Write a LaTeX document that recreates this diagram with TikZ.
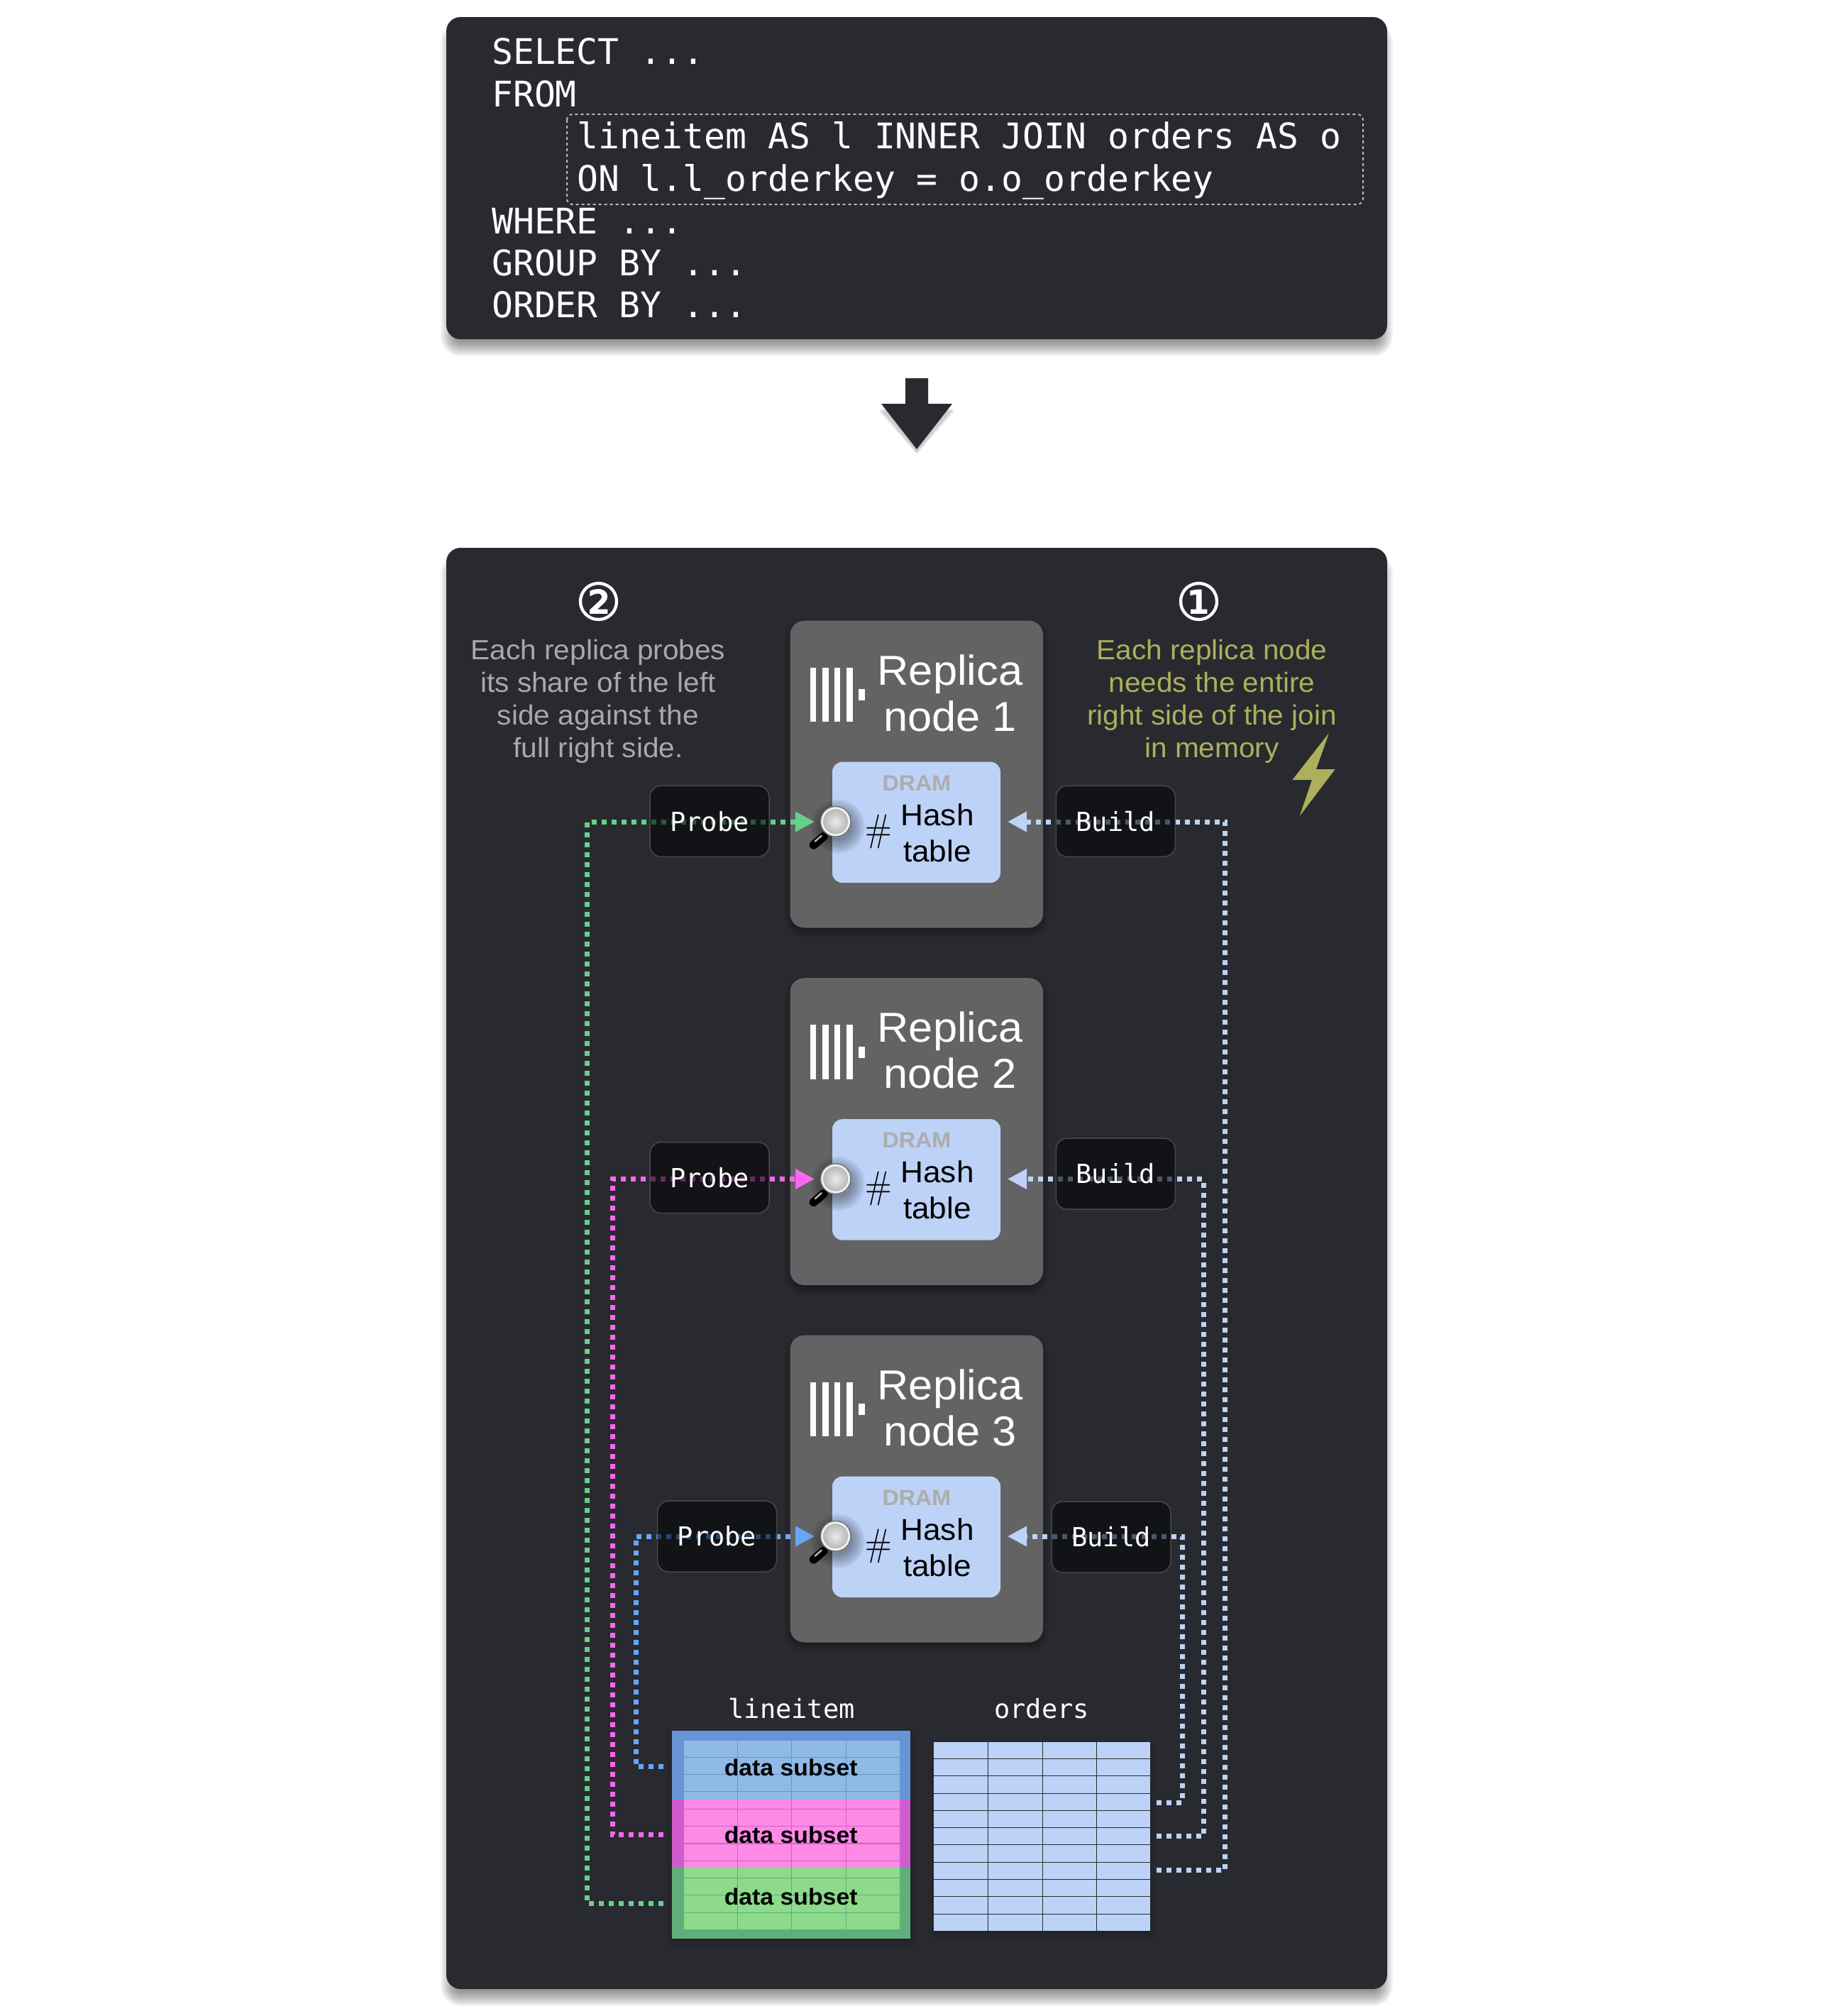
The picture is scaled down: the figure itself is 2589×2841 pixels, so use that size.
\documentclass[tikz,border=0pt]{standalone}
\usepackage{fontspec}
\usetikzlibrary{arrows.meta,calc}
\newfontfamily\insans[FakeStretch=1.04]{Liberation Sans}
\newfontfamily\jbmono{DejaVu Sans Mono}
\newfontfamily\circfont[FakeBold=2]{DejaVu Sans}
\definecolor{panelc}{HTML}{292A2F}
\definecolor{repc}{HTML}{636363}
\definecolor{dramc}{HTML}{BDD2F7}
\definecolor{lblc}{HTML}{030407}
\definecolor{lbld}{HTML}{47484D}
\definecolor{oliveC}{HTML}{AEAF5B}
\definecolor{greyT}{HTML}{A9A9AC}
\definecolor{gline}{HTML}{66D18A}
\definecolor{pline}{HTML}{FF66F0}
\definecolor{bline}{HTML}{68A6F5}
\definecolor{bbord}{HTML}{6694D4}
\definecolor{bfill}{HTML}{8FBAE6}
\definecolor{pbord}{HTML}{CF5CCF}
\definecolor{pfill}{HTML}{FF8AE6}
\definecolor{gbord}{HTML}{5FAF7B}
\definecolor{gfill}{HTML}{8CDA8A}
\newcommand{\softshadow}[7]{% x1 y1 x2 y2 radius dy alpha
  \foreach \e in {-12,-10,...,8}{
    \pgfmathsetmacro{\rr}{max(1,#5+\e)}
    \fill[black,opacity=#7,rounded corners=\rr pt]
      ({#1-(\e)},{#2-(\e)+#6}) rectangle ({#3+\e},{#4+\e+#6});
  }}
\tikzset{
  x=1pt,y=-1pt,
  sqltext/.style={font=\jbmono\fontsize{49.7}{60}\selectfont,text=white,inner sep=0,anchor=base west},
  monolabel/.style={font=\jbmono\fontsize{37}{44}\selectfont,text=white,inner sep=0,anchor=base},
  lblbox/.style={draw=lbld,line width=1.5pt,fill=lblc,fill opacity=.6,draw opacity=1,text opacity=1,
     rounded corners=16pt,minimum width=168pt,minimum height=100pt,inner sep=0,
     font=\jbmono\fontsize{37}{44}\selectfont,text=white},
  conn/.style={line width=7pt,dash pattern=on 7pt off 7pt},
  tipped/.style={-{Triangle[length=27pt,width=27pt]}},
  repbox/.style={fill=repc,rounded corners=20pt},
  drambox/.style={fill=dramc,rounded corners=14pt},
  caption/.style={font=\insans\fontsize{39}{46}\selectfont,align=center,inner sep=0},
  subset/.style={font=\insans\bfseries\fontsize{32.5}{38}\selectfont,text=black,inner sep=0,anchor=base},
  pics/lens/.style={code={
    \foreach \r in {38,35,...,20}{\fill[black,opacity=.06] (3,7) circle (\r);}
    \draw[line width=6pt,color=gray!70!black] (-11,13) -- (-16,19);
    \draw[line width=12pt,line cap=round,color=black] (-17,21) -- (-31,33);
    \draw[line width=2.5pt,color=black!30,line cap=round] (-20,20) -- (-29,28);
    \fill[color=black!55] (0,0) circle (22);
    \fill[color=black!6] (0,0) circle (20.5);
    \shade[inner color=black!8,outer color=black!28] (0,0) circle (17.5);
  }}
}
\begin{document}
\begin{tikzpicture}
\useasboundingbox (0,0) rectangle (2589,2841);
\fill[white] (0,0) rectangle (2589,2841);

% top panel
\softshadow{629}{24}{1955}{478}{20}{16}{.045}
\fill[panelc,rounded corners=20pt] (629,24) rectangle (1955,478);
\draw[color=black!27,line width=2pt,dash pattern=on 4pt off 4pt,rounded corners=8pt] (799,161) rectangle (1921,288);
\node[sqltext] (l1) at (693,90.5) {SELECT ...};
\node[sqltext] (l2) at (693,150) {FROM};
\node[sqltext] (l3) at (813,209.5) {lineitem AS l INNER JOIN orders AS o};
\node[sqltext] (l4) at (813,269) {ON l.l\_orderkey = o.o\_orderkey};
\node[sqltext] (l5) at (693,329) {WHERE ...};
\node[sqltext] (l6) at (693,388) {GROUP BY ...};
\node[sqltext] (l7) at (693,447.5) {ORDER BY ...};

% arrow
\foreach \e in {4,3,2,1}{\fill[black,opacity=.05] (1276,540+\e) -- (1308,540+\e) -- (1308,575+\e) -- (1342+\e,575+\e) -- (1292,636+\e) -- (1242-\e,575+\e) -- (1276,575+\e) -- cycle;}
\fill[panelc] (1276,533) -- (1308,533) -- (1308,569) -- (1342,569) -- (1292,633) -- (1242,569) -- (1276,569) -- cycle;

% lower panel
\softshadow{629}{772}{1955}{2803}{20}{16}{.045}
\fill[panelc,rounded corners=20pt] (629,772) rectangle (1955,2803);

% numbered captions
\node[font=\circfont\fontsize{72}{80}\selectfont,text=white,inner sep=0] (n2) at (843.5,847.5) {②};
\node[font=\circfont\fontsize{72}{80}\selectfont,text=white,inner sep=0] (n1) at (1689.5,847.5) {①};
\node[caption,text=greyT] (capL) at (843,988.5) {Each replica probes\\its share of the left\\side against the\\full right side.};
\node[caption,text=oliveC] (capR) at (1708,988.5) {Each replica node\\needs the entire\\right side of the join\\in memory};
\fill[oliveC] (1873,1033) -- (1821.4,1099) -- (1849,1099) -- (1831.7,1150) -- (1881.6,1084) -- (1855,1084) -- cycle;

% replica boxes
\foreach \n/\d in {1/0,2/503.5,3/1007}{
  \softshadow{1113.5}{874.7+\d}{1470}{1307.5+\d}{20}{6}{.035}
  \node[repbox,minimum width=356.5pt,minimum height=432.8pt,inner sep=0] (rep\n) at (1291.75,1091.1+\d) {};
  \node[drambox,minimum width=237pt,minimum height=170.3pt,inner sep=0] (dram\n) at (1291.5,1158.85+\d) {};
  \foreach \bx in {1141.7,1159.3,1176,1193.3}{
    \fill[white] (\bx,940.7+\d) rectangle (\bx+8.4,1017+\d);
  }
  \fill[white] (1210.3,971+\d) rectangle (1219,987.3+\d);
  \node[font=\insans\fontsize{59}{65}\selectfont,text=white,inner sep=0,align=center] (title\n) at (1339,976.5+\d) {Replica\\node \n};
  \node[font=\insans\bfseries\fontsize{31}{38}\selectfont,text=black!32,inner sep=0,anchor=base] (dl\n) at (1292,1114+\d) {DRAM};
  \node[font=\fontsize{54}{54}\selectfont,text=black,inner sep=0,xscale=.9] (hs\n) at (1238.5,1172+\d) {\#};
  \node[font=\insans\fontsize{42.5}{51}\selectfont,text=black,inner sep=0,align=center] (ht\n) at (1321,1173.5+\d) {Hash\\table};
  \coordinate (tipP\n) at (1148,1158+\d);
  \coordinate (tipB\n) at (1420,1158+\d);
  \pic at (1177.7,1157.7+\d) {lens};
}

% endpoints
\coordinate (gs) at (935,2682.3);
\coordinate (ps) at (935,2585.7);
\coordinate (bs) at (935,2489);
\coordinate (gc) at (827.5,1158);
\coordinate (pc) at (863,1661.5);
\coordinate (bc) at (896,2165);
\coordinate (o1) at (1630,2635.7);
\coordinate (o2) at (1630,2587.7);
\coordinate (o3) at (1630,2540);
\coordinate (rc1) at (1726.7,1158);
\coordinate (rc2) at (1696,1661.5);
\coordinate (rc3) at (1666.3,2165);

% connectors
\draw[conn,gline,tipped] (gs) -| (gc) -- (tipP1);
\draw[conn,pline,tipped] (ps) -| (pc) -- (tipP2);
\draw[conn,bline,tipped] (bs) -| (bc) -- (tipP3);
\draw[conn,dramc,tipped] (o1) -| (rc1) -- (tipB1);
\draw[conn,dramc,tipped] (o2) -| (rc2) -- (tipB2);
\draw[conn,dramc,tipped] (o3) -| (rc3) -- (tipB3);

% labels
\node[lblbox] (probe1) at (1000,1157.3) {Probe};
\node[lblbox] (build1) at (1572.3,1157.3) {Build};
\node[lblbox] (probe2) at (1000,1659.5) {Probe};
\node[lblbox] (build2) at (1572.3,1654) {Build};
\node[lblbox] (probe3) at (1010.5,2165) {Probe};
\node[lblbox] (build3) at (1566,2166) {Build};

% lineitem table
\node[monolabel] (tl) at (1115.6,2421.7) {lineitem};
\node[monolabel] (to) at (1468,2421.7) {orders};
\softshadow{946.6}{2439.3}{1283.4}{2731.7}{1}{6}{.02}
\fill[bbord] (946.6,2439.3) rectangle (1283.4,2535.7);
\fill[pbord] (946.6,2535.7) rectangle (1283.4,2630.7);
\fill[gbord] (946.6,2630.7) rectangle (1283.4,2731.7);
\fill[bfill] (963.7,2453) rectangle (1268,2535.7);
\fill[pfill] (963.7,2535.7) rectangle (1268,2630.7);
\fill[gfill] (963.7,2630.7) rectangle (1268,2719);
\foreach \yy in {2476.3,2500.3,2524.3}{\draw[bbord,line width=1.5pt] (963.7,\yy) -- (1268,\yy);}
\foreach \yy in {2549.3,2573.3,2598,2622.3}{\draw[pbord,line width=1.5pt] (963.7,\yy) -- (1268,\yy);}
\foreach \yy in {2646.7,2670.7,2695.3}{\draw[gbord,line width=1.5pt] (963.7,\yy) -- (1268,\yy);}
\foreach \xx in {1039.6,1115.6,1192.7}{
  \draw[bbord,line width=1.2pt] (\xx,2453) -- (\xx,2535.7);
  \draw[pbord,line width=1.2pt] (\xx,2535.7) -- (\xx,2630.7);
  \draw[gbord,line width=1.2pt] (\xx,2630.7) -- (\xx,2719);
}
\node[subset] (s1) at (1114.7,2502) {data subset};
\node[subset] (s2) at (1114.7,2597.7) {data subset};
\node[subset] (s3) at (1114.7,2684) {data subset};

% orders table
\softshadow{1316.4}{2454.7}{1621.4}{2721}{1}{6}{.02}
\fill[dramc] (1316.4,2454.7) rectangle (1621.4,2721);
\foreach \yy in {2478,2502.7,2527,2551.7,2575.7,2599.7,2624.3,2648.7,2672.7,2697.3}{\draw[panelc,line width=1pt] (1316.4,\yy) -- (1621.4,\yy);}
\foreach \xx in {1392.4,1469,1545.5}{\draw[panelc,line width=1pt] (\xx,2454.7) -- (\xx,2721);}
\end{tikzpicture}
\end{document}
